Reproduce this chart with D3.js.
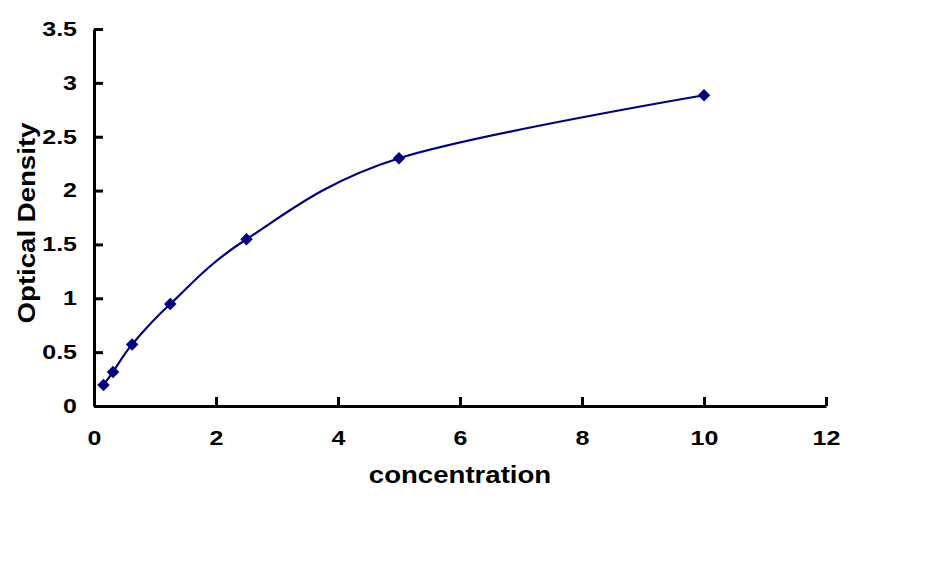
<!DOCTYPE html>
<html>
<head>
<meta charset="utf-8">
<script src="https://cdn.jsdelivr.net/npm/d3@7"></script>
<style>
  html, body { margin: 0; padding: 0; background: #fff; }
  svg { display: block; font-family: "Liberation Sans", Arial, sans-serif; font-weight: bold; }
</style>
</head>
<body>
<svg id="chart"></svg>
<script>
// standard curve values
const concentration = [0.156, 0.312, 0.625, 1.25, 2.5, 5, 10];
const density = [0.195, 0.316, 0.572, 0.947, 1.548, 2.30, 2.885];
const xTicks = [0, 2, 4, 6, 8, 10, 12];
const yTicks = [0, 0.5, 1, 1.5, 2, 2.5, 3, 3.5];

const width = 938;
const height = 566;
const m = { left: 94, right: 826, top: 29, bottom: 406 };
const navy = "#000080";

const svg = d3.select("#chart").attr("width", width).attr("height", height);

const x = d3.scaleLinear().domain([0, 12]).range([m.left, m.right]);
const y = d3.scaleLinear().domain([0, 3.5]).range([m.bottom, m.top]);

// y axis, ticks point inward
const yAxis = svg.append("g")
  .attr("transform", `translate(${m.left},0)`)
  .call(d3.axisLeft(y).tickValues(yTicks).tickSize(-9).tickSizeOuter(0)
    .tickFormat(d => d3.format("")(d)));
yAxis.selectAll("text")
  .attr("x", 0)
  .attr("transform", "translate(-17,0) scale(1.25,1)")
  .style("font-size", "20px");

const xAxis = svg.append("g")
  .attr("transform", `translate(0,${m.bottom})`)
  .call(d3.axisBottom(x).tickValues(xTicks).tickSize(-9).tickSizeOuter(0).tickPadding(25));
xAxis.selectAll("text")
  .attr("transform", "scale(1.25,1)")
  .style("font-size", "20px");

svg.selectAll(".domain, .tick line")
  .attr("stroke", "#000")
  .attr("stroke-width", 3);
svg.selectAll(".tick text").attr("fill", "#000");

// smoothed line like Excel
const line = d3.line()
  .x((d, i) => x(concentration[i]))
  .y(d => y(d))
  .curve(d3.curveCardinal.tension(0));

svg.append("path")
  .datum(density)
  .attr("fill", "none")
  .attr("stroke", navy)
  .attr("stroke-width", 2.2)
  .attr("d", line);

const diamond = d3.symbol().type(d3.symbolDiamond2).size(100);
svg.selectAll(".pt")
  .data(density)
  .join("path")
  .attr("class", "pt")
  .attr("transform", (d, i) => `translate(${x(concentration[i])},${y(d)})`)
  .attr("d", diamond)
  .attr("fill", navy);

// axis titles
svg.append("text")
  .attr("transform", `translate(${(m.left + m.right) / 2},483) scale(1.2,1)`)
  .attr("text-anchor", "middle")
  .style("font-size", "23px")
  .text("concentration");

svg.append("text")
  .attr("transform", "translate(35,223) rotate(-90) scale(1.2,1)")
  .attr("text-anchor", "middle")
  .style("font-size", "23px")
  .text("Optical Density");
</script>
</body>
</html>
